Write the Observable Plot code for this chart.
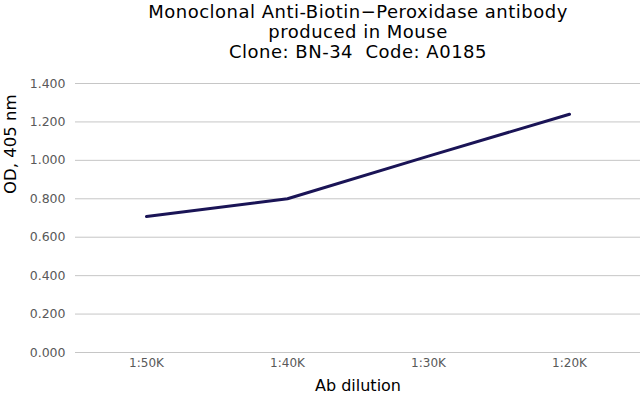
<!DOCTYPE html>
<html>
<head>
<meta charset="utf-8">
<script src="https://cdn.jsdelivr.net/npm/d3@7"></script>
<script src="https://cdn.jsdelivr.net/npm/@observablehq/plot@0.6"></script>
<style>
  html, body { margin: 0; padding: 0; background: #fff; }
  svg { font-family: "DejaVu Sans", Verdana, sans-serif; }
  .title-text { letter-spacing: 0.5px; }
</style>
</head>
<body>
<div id="chart"></div>
<script>
const dilutions = ["1:50K", "1:40K", "1:30K", "1:20K"];
const odValues = [0.708, 0.800, 1.022, 1.240];
const yTicks = [0, 0.2, 0.4, 0.6, 0.8, 1.0, 1.2, 1.4];
const titleLines = ["Monoclonal Anti-Biotin\u2212Peroxidase antibody", "produced in Mouse", "Clone: BN-34  Code: A0185"];
const xLabel = "Ab dilution";
const yLabel = "OD, 405 nm";

const data = dilutions.map((d, i) => ({dilution: d, od: odValues[i]}));

const chart = Plot.plot({
  width: 640,
  height: 397,
  marginTop: 83,
  marginBottom: 45,
  marginLeft: 75,
  marginRight: 0,
  style: {fontFamily: "'DejaVu Sans', Verdana, sans-serif", background: "#fff"},
  x: {type: "point", domain: dilutions, padding: 0.5, label: null},
  y: {domain: [0, 1.4], label: null},
  marks: [
    Plot.gridY(yTicks, {stroke: "#c6c6c6", strokeOpacity: 1, strokeWidth: 1}),
    Plot.axisY(yTicks, {tickSize: 0, tickPadding: 10, tickFormat: d3.format(".3f"), fontSize: 12.5, fill: "#595959", label: null}),
    Plot.axisX(dilutions, {tickSize: 0, tickPadding: 6, fontSize: 12, fill: "#595959", label: null}),
    Plot.line(data, {x: "dilution", y: "od", stroke: "#1a1456", strokeWidth: 3, strokeLinejoin: "round", strokeLinecap: "round"}),
    Plot.text([titleLines.join("\n")], {frameAnchor: "top", lineAnchor: "top", dy: -80, fontSize: 18, lineHeight: 1.111, fill: "#000", className: "title-text"}),
    Plot.text([xLabel], {frameAnchor: "bottom", lineAnchor: "bottom", dy: 38, fontSize: 16, fill: "#000"}),
    Plot.text([yLabel], {frameAnchor: "left", rotate: -90, dx: -65, dy: -24, fontSize: 16.5, fill: "#000"})
  ]
});
document.getElementById("chart").appendChild(chart);
</script>
</body>
</html>
